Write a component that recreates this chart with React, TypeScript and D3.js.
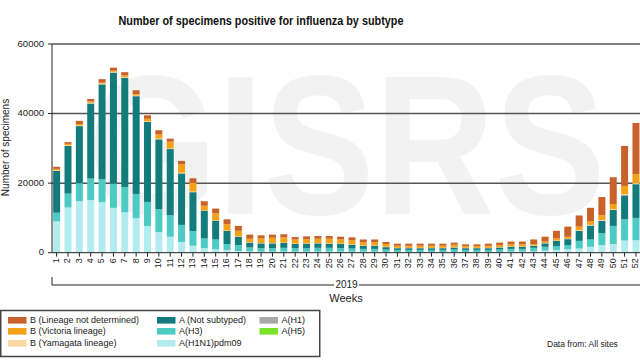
import React from "react";
import * as d3 from "d3";

const weeks = [
  1, 2, 3, 4, 5, 6, 7, 8, 9, 10, 11, 12, 13, 14, 15, 16, 17, 18, 19, 20, 21, 22, 23, 24, 25, 26,
  27, 28, 29, 30, 31, 32, 33, 34, 35, 36, 37, 38, 39, 40, 41, 42, 43, 44, 45, 46, 47, 48, 49, 50, 51, 52,
];
const yTicks = [0, 20000, 40000, 60000];

const h1n1 = [
  9000, 13000, 14800, 15100, 14500, 12900, 11600, 9900, 7700, 5900,
  4600, 3100, 2000, 1300, 1000, 800, 500, 400, 300, 300,
  300, 300, 300, 300, 300, 300, 300, 300, 300, 200,
  200, 200, 200, 200, 200, 200, 200, 200, 200, 200,
  300, 300, 400, 600, 800, 1000, 1200, 1700, 2200, 2500, 3500, 3600,
];
const h3 = [
  2500, 4000, 5200, 6200, 6600, 7000, 7300, 7000, 6900, 6600,
  6200, 4900, 4200, 2800, 2800, 1700, 1700, 1100, 1000, 1000,
  1100, 1000, 1000, 1100, 1100, 1000, 900, 800, 800, 700,
  600, 600, 600, 600, 600, 700, 600, 600, 600, 700,
  800, 800, 1000, 1100, 1100, 1200, 2200, 2100, 3400, 5200, 6100, 6400,
];
const h1 = [
  0, 0, 0, 0, 0, 0, 0, 0, 0, 0, 0, 0, 0, 0, 0, 0, 0, 0, 0, 0, 0, 0, 0, 0, 0, 0,
  0, 0, 0, 0, 0, 0, 0, 0, 0, 0, 0, 0, 0, 0, 0, 0, 0, 0, 0, 0, 0, 0, 0, 0, 0, 0,
];
const h5 = [
  0, 0, 0, 0, 0, 0, 0, 0, 0, 0, 0, 0, 0, 0, 0, 0, 0, 0, 0, 0, 0, 0, 0, 0, 0, 0,
  0, 0, 0, 0, 0, 0, 0, 0, 0, 0, 0, 0, 0, 0, 0, 0, 0, 0, 0, 0, 0, 0, 0, 0, 0, 0,
];
const notSubtyped = [
  12000, 13700, 16400, 21600, 27300, 31900, 31400, 28100, 23000, 20100,
  19000, 14800, 11200, 8000, 5400, 3800, 2400, 1400, 1400, 1400,
  1400, 1200, 1300, 1300, 1200, 1200, 1100, 900, 900, 700,
  500, 500, 500, 500, 500, 600, 500, 500, 500, 600,
  600, 600, 600, 1000, 1500, 1700, 2900, 4000, 3600, 4600, 6900, 9700,
];
const yamagata = [
  200, 200, 200, 200, 200, 200, 200, 200, 200, 200,
  200, 200, 200, 100, 100, 100, 100, 100, 100, 100,
  100, 100, 100, 100, 100, 100, 100, 100, 100, 100,
  100, 100, 100, 100, 100, 100, 100, 100, 100, 100,
  100, 100, 100, 100, 100, 100, 200, 200, 200, 200, 300, 300,
];
const victoria = [
  400, 400, 400, 400, 300, 300, 500, 400, 700, 1200,
  1900, 2400, 2500, 1300, 2000, 1800, 1600, 1000, 1300, 1500,
  1500, 1200, 1200, 1200, 1300, 1200, 1200, 900, 900, 800,
  600, 600, 600, 600, 600, 700, 500, 500, 600, 600,
  600, 600, 400, 400, 600, 600, 1000, 1100, 1400, 1500, 2400, 2600,
];
const notDetermined = [
  600, 500, 900, 700, 1000, 900, 900, 1100, 1000, 1200,
  900, 1000, 1300, 1300, 1400, 1400, 1400, 1200, 900, 900,
  900, 700, 800, 800, 800, 800, 800, 800, 800, 600,
  600, 600, 600, 600, 600, 600, 500, 500, 600, 700,
  800, 800, 1300, 1400, 2200, 2900, 3200, 3800, 5200, 7700, 11500, 14700,
];

const seriesKeys = ["h1n1", "h3", "h1", "h5", "ns", "yam", "vic", "bnd"];
const seriesData: Record<string, number[]> = {
  h1n1, h3, h1, h5, ns: notSubtyped, yam: yamagata, vic: victoria, bnd: notDetermined,
};
const colors: Record<string, string> = {
  bnd: "#c9622a",
  vic: "#f3a116",
  yam: "#fbd8a6",
  ns: "#137b7b",
  h3: "#4ccac3",
  h1n1: "#b3ecee",
  h1: "#a8a8a8",
  h5: "#7be22a",
};
const legendItems = [
  { key: "bnd", label: "B (Lineage not determined)", col: 0, row: 0 },
  { key: "vic", label: "B (Victoria lineage)", col: 0, row: 1 },
  { key: "yam", label: "B (Yamagata lineage)", col: 0, row: 2 },
  { key: "ns", label: "A (Not subtyped)", col: 1, row: 0 },
  { key: "h3", label: "A(H3)", col: 1, row: 1 },
  { key: "h1n1", label: "A(H1N1)pdm09", col: 1, row: 2 },
  { key: "h1", label: "A(H1)", col: 2, row: 0 },
  { key: "h5", label: "A(H5)", col: 2, row: 1 },
];

const FONT = "'Liberation Sans', Arial, Helvetica, sans-serif";

export default function App() {
  const left = 52;
  const right = 640.6;
  const top = 44;
  const bottom = 252.7;

  const x = d3
    .scaleBand<string>()
    .domain(weeks.map(String))
    .range([left, right])
    .paddingInner(0.384)
    .paddingOuter(0.1);
  const y = d3.scaleLinear().domain([0, 60000]).range([bottom, top]);

  const rows = weeks.map((w, i) => {
    const r: Record<string, number | string> = { week: String(w) };
    seriesKeys.forEach((k) => (r[k] = seriesData[k][i]));
    return r;
  });
  const stacked = d3.stack<any>().keys(seriesKeys)(rows as any);

  const colX = [8, 157, 259.5];
  const rowY = [320.3, 331.3, 343.3];

  return (
    <svg
      width={640}
      height={361}
      style={{ position: "absolute", left: 0, top: 0, background: "#fff" }}
      fontFamily={FONT}
    >
      <rect x={0} y={0} width={640} height={361} fill="#fff" />
      {/* watermark */}
      <text
        transform="translate(88,214) scale(0.84,1)"
        fontSize={198}
        fontWeight="bold"
        fill="#f2f2f2"
      >
        GISRS
      </text>

      {/* title */}
      <text
        x={261}
        y={25}
        textAnchor="middle"
        fontSize={12.5}
        fontWeight="bold"
        fill="#111"
        textLength={285}
        lengthAdjust="spacingAndGlyphs"
      >
        Number of specimens positive for influenza by subtype
      </text>

      {/* grid lines */}
      {yTicks.filter((t) => t > 0).map((t) => (
        <line key={t} x1={left} x2={642} y1={y(t)} y2={y(t)} stroke="#555" strokeWidth={1.5} />
      ))}

      {/* bars */}
      {stacked.map((layer) => (
        <g key={layer.key} fill={colors[layer.key]}>
          {layer.map((d, i) => {
            const h = y(d[0]) - y(d[1]);
            if (h <= 0) return null;
            return (
              <rect
                key={i}
                x={x(String(weeks[i]))}
                y={y(d[1])}
                width={x.bandwidth()}
                height={h}
              />
            );
          })}
        </g>
      ))}

      {/* y axis */}
      <line x1={left} x2={left} y1={top} y2={bottom} stroke="#222" strokeWidth={1} />
      {yTicks.map((t) => (
        <g key={t}>
          <line x1={left - 4} x2={left} y1={y(t)} y2={y(t)} stroke="#222" />
          <text
            x={44}
            y={y(t)}
            textAnchor="end"
            dominantBaseline="middle"
            fontSize={9.5}
            fill="#222"
          >
            {t}
          </text>
        </g>
      ))}
      <text
        transform={`translate(9,147.5) rotate(-90)`}
        textAnchor="middle"
        fontSize={10}
        fill="#222"
      >
        Number of specimens
      </text>

      {/* x axis */}
      <line x1={left} x2={642} y1={bottom} y2={bottom} stroke="#222" strokeWidth={1} />
      {weeks.map((w) => {
        const cx = (x(String(w)) as number) + x.bandwidth() / 2;
        return (
          <g key={w}>
            <line x1={cx} x2={cx} y1={bottom} y2={bottom + 4} stroke="#222" />
            <text
              transform={`translate(${cx},${bottom + 5.5}) rotate(-90)`}
              textAnchor="end"
              dominantBaseline="middle"
              fontSize={9}
              fill="#222"
            >
              {w}
            </text>
          </g>
        );
      })}

      {/* year bracket */}
      <line x1={left} x2={left} y1={277} y2={285} stroke="#222" />
      <line x1={left} x2={334} y1={285} y2={285} stroke="#222" />
      <line x1={359} x2={642} y1={285} y2={285} stroke="#222" />
      <text x={346.5} y={285} textAnchor="middle" dominantBaseline="middle" fontSize={10} fill="#222">
        2019
      </text>
      <text x={346} y={302} textAnchor="middle" fontSize={11} fill="#222">
        Weeks
      </text>

      {/* legend */}
      <rect x={0.75} y={310.5} width={319} height={46} fill="none" stroke="#444" strokeWidth={1.5} />
      {legendItems.map((it) => (
        <g key={it.key}>
          <rect
            x={colX[it.col]}
            y={rowY[it.row] - 3.3}
            width={18.5}
            height={6.6}
            fill={colors[it.key]}
          />
          <text
            x={colX[it.col] + 22}
            y={rowY[it.row]}
            dominantBaseline="middle"
            fontSize={9}
            fill="#222"
          >
            {it.label}
          </text>
        </g>
      ))}

      <text x={547} y={346.5} fontSize={8.5} fill="#222">
        Data from: All sites
      </text>
    </svg>
  );
}
